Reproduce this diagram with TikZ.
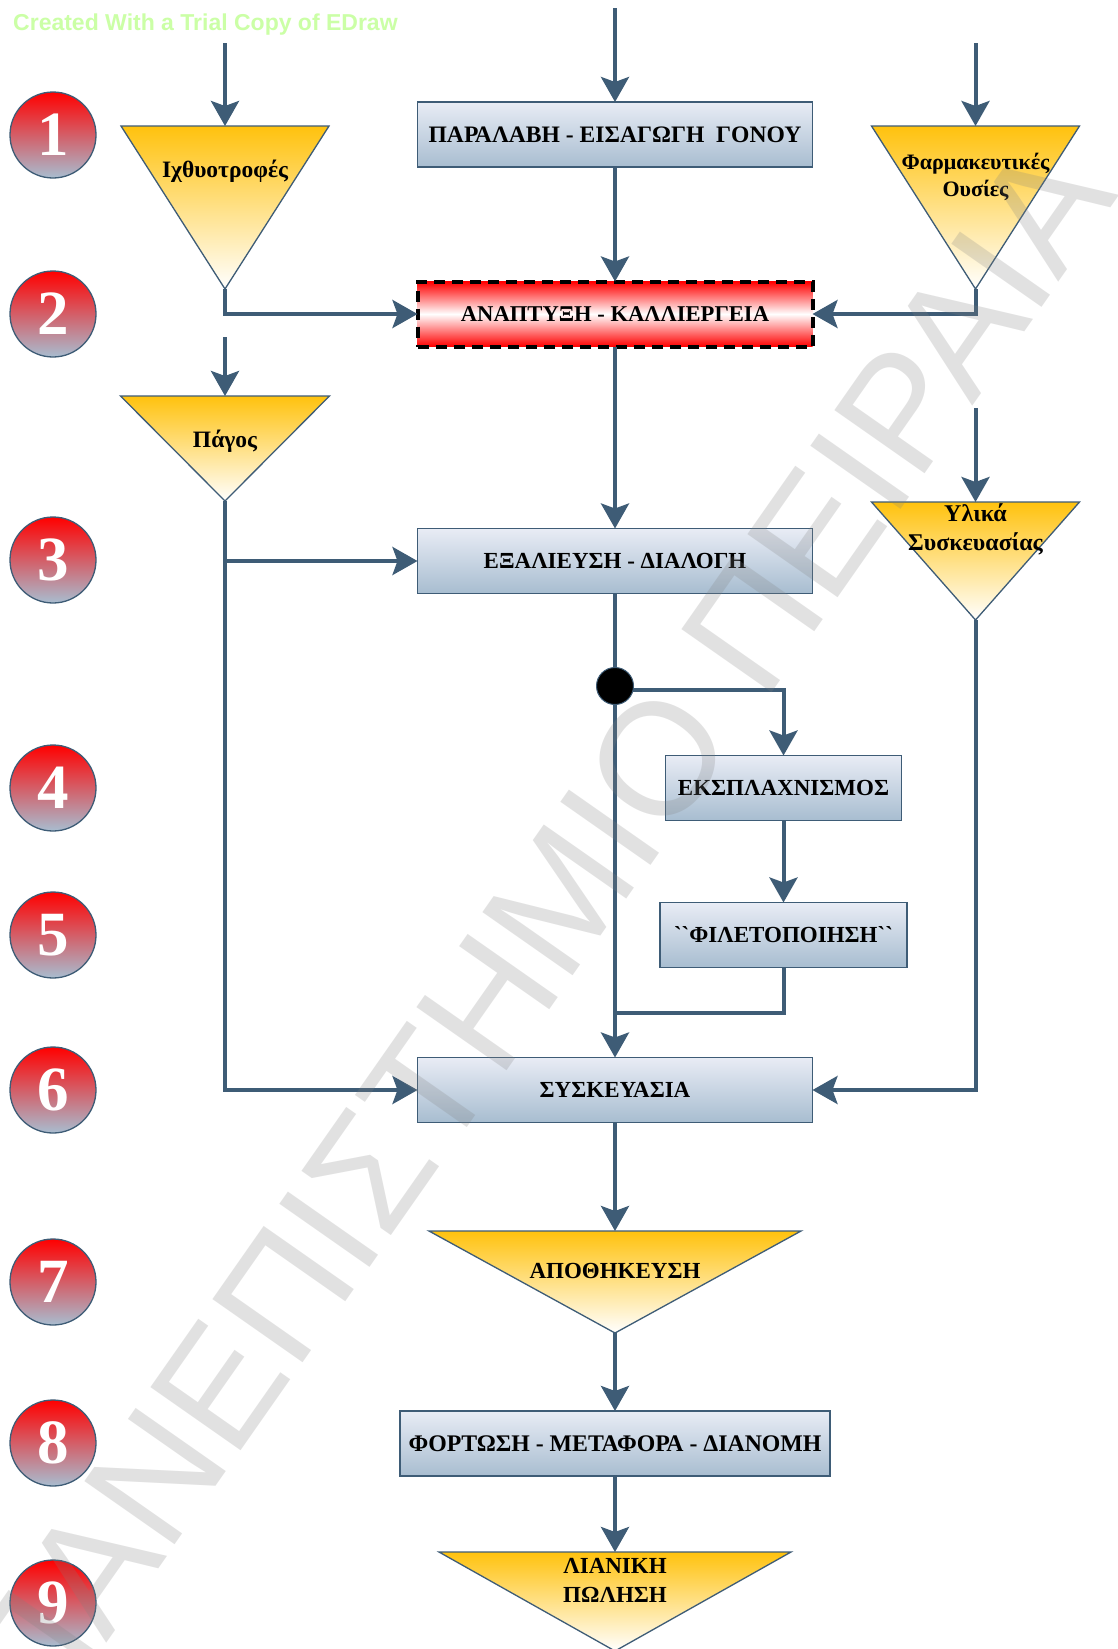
\documentclass[tikz,border=0pt]{standalone}
\usepackage{fontspec}
\setmainfont{Liberation Serif}
\setsansfont{Liberation Sans}
\newfontfamily\rawserif{Liberation Serif}
\usetikzlibrary{arrows.meta}

\definecolor{flowblue}{HTML}{3E5C76}
\definecolor{boxtop}{HTML}{E8ECF5}
\definecolor{boxbottom}{HTML}{A8BDD0}
\definecolor{trigold}{HTML}{FFC20E}
\definecolor{trialgreen}{HTML}{CBFFA6}

\tikzset{
  flowline/.style={draw=flowblue, line width=4pt, line join=miter},
  flowarrow/.style={flowline, -{Stealth[length=25pt, width=28pt, inset=5pt]}},
  procbox/.style={draw=flowblue, line width=1.3pt, top color=boxtop, bottom color=boxbottom,
    inner sep=0pt, outer sep=0pt, minimum height=65pt, font=\fontsize{23}{28}\selectfont\bfseries},
  redbox/.style={procbox, draw=black, line width=4pt, dash pattern=on 11pt off 7pt,
    top color=red, bottom color=red, middle color=white, font=\fontsize{22.6}{28}\selectfont\bfseries},
  stepball/.style={circle, draw=flowblue, line width=1.3pt, top color=red, bottom color=boxbottom,
    minimum size=86pt, inner sep=0pt, text=white, font=\fontsize{63}{63}\selectfont\bfseries},
  trilabel/.style={align=center, inner sep=0pt, font=\fontsize{23.5}{28}\selectfont\bfseries},
  bigtrilabel/.style={trilabel, font=\fontsize{23}{29}\selectfont\bfseries},
}

% name, centre x, top y, half width, tip y
\newcommand{\shadetriangle}[5]{
  \shade [draw=flowblue, line width=1.3pt, top color=trigold, bottom color=white]
         (#2-#4,#3) -- (#2+#4,#3) -- (#2,#5) -- cycle;
  \coordinate (#1top) at (#2,#3);
  \coordinate (#1tip) at (#2,#5);
}

\begin{document}
\begin{tikzpicture}[x=1pt, y=-1pt]
  \path[use as bounding box, clip] (0,0) rectangle (1117,1649);
  \fill[white] (0,0) rectangle (1117,1649);

  \node[anchor=west, text=trialgreen, inner sep=0pt, font=\fontsize{23}{23}\selectfont\sffamily\bfseries]
       (trialnote) at (13,25) {Created With a Trial Copy of EDraw};

  % side numbers
  \node[stepball] (stepone) at (53,135) {1};
  \node[stepball] (steptwo) at (53,314) {2};
  \node[stepball] (stepthree) at (53,560) {3};
  \node[stepball] (stepfour) at (53,788) {4};
  \node[stepball] (stepfive) at (53,935) {5};
  \node[stepball] (stepsix) at (53,1090) {6};
  \node[stepball] (stepseven) at (53,1282) {7};
  \node[stepball] (stepeight) at (53,1443) {8};
  \node[stepball] (stepnine) at (53,1603) {9};

  % triangles
  \shadetriangle{fish}{225}{126}{104}{289}
  \shadetriangle{pharma}{975.5}{126}{104}{289}
  \shadetriangle{ice}{225}{396}{104.5}{501}
  \shadetriangle{pack}{975.5}{502}{104}{620}
  \shadetriangle{store}{615}{1231}{186}{1333}
  \shadetriangle{retail}{615}{1552}{176}{1651}

  \node[trilabel] (fishlabel) at (225,171) {Ιχθυοτροφές};
  \node[trilabel, font=\fontsize{22}{27}\selectfont\bfseries] (pharmalabel) at (975.5,177) {Φαρμακευτικές\\Ουσίες};
  \node[trilabel] (icelabel) at (225,441) {Πάγος};
  \node[trilabel, font=\fontsize{24}{29}\selectfont\bfseries] (packlabel) at (975.5,529) {Υλικά\\Συσκευασίας};
  \node[bigtrilabel] (storelabel) at (615,1271) {ΑΠΟΘΗΚΕΥΣΗ};
  \node[bigtrilabel] (retaillabel) at (615,1580) {ΛΙΑΝΙΚΗ\\ΠΩΛΗΣΗ};

  % boxes
  \node[procbox, minimum width=395pt, font=\fontsize{23.6}{28}\selectfont\bfseries] (receive) at (615,134.5) {ΠΑΡΑΛΑΒΗ - ΕΙΣΑΓΩΓΗ\ \ ΓΟΝΟΥ};
  \node[redbox, minimum width=395pt] (grow) at (615,314) {ΑΝΑΠΤΥΞΗ - ΚΑΛΛΙΕΡΓΕΙΑ};
  \node[procbox, minimum width=395pt] (gut) at (615,561) {ΕΞΑΛΙΕΥΣΗ - ΔΙΑΛΟΓΗ};
  \node[procbox, minimum width=236pt] (wash) at (783.5,788) {ΕΚΣΠΛΑΧΝΙΣΜΟΣ};
  \node[procbox, minimum width=247pt] (fillet) at (783.5,935) {{\rawserif\bfseries``}ΦΙΛΕΤΟΠΟΙΗΣΗ{\rawserif\bfseries``}};
  \node[procbox, minimum width=395pt] (packing) at (615,1090) {ΣΥΣΚΕΥΑΣΙΑ};
  \node[procbox, minimum width=430pt, font=\fontsize{23.8}{28}\selectfont\bfseries] (deliver) at (615,1443.5) {ΦΟΡΤΩΣΗ - ΜΕΤΑΦΟΡΑ - ΔΙΑΝΟΜΗ};

  % free ends and joins
  \coordinate (fishin) at (225,43);
  \coordinate (receivein) at (615,8);
  \coordinate (pharmain) at (975.5,43);
  \coordinate (icein) at (225,337);
  \coordinate (packin) at (975.5,408);
  \coordinate (icejoin) at (225,561);
  \coordinate (branch) at (615,690);
  \coordinate (merge) at (615,1013);

  \draw[flowarrow] (fishin) -- (fishtop);
  \draw[flowarrow] (receivein) -- (receive.north);
  \draw[flowarrow] (pharmain) -- (pharmatop);
  \draw[flowarrow] (icein) -- (icetop);
  \draw[flowarrow] (packin) -- (packtop);

  \draw[flowarrow] (receive.south) -- (grow.north);
  \draw[flowarrow] (fishtip) |- (grow.west);
  \draw[flowarrow] (pharmatip) |- (grow.east);
  \draw[flowarrow] (grow.south) -- (gut.north);
  \draw[flowarrow] (icejoin) -- (gut.west);
  \draw[flowarrow] (icetip) |- (packing.west);
  \draw[flowarrow] (packtip) |- (packing.east);
  \draw[flowarrow] (gut.south) -- (packing.north);
  \draw[flowarrow] (branch) -| (wash.north);
  \draw[flowarrow] (wash.south) -- (fillet.north);
  \draw[flowline] (fillet.south) |- (merge);
  \draw[flowarrow] (packing.south) -- (storetop);
  \draw[flowarrow] (storetip) -- (deliver.north);
  \draw[flowarrow] (deliver.south) -- (retailtop);

  \node[circle, fill=black, draw=flowblue, line width=1pt, minimum size=37pt, inner sep=0pt]
       (splitdot) at (615,686) {};

  % overprint across the sheet
  \node[rotate=55, anchor=base west, text=black!50, text opacity=0.23, inner sep=0pt,
        font=\fontsize{160}{160}\selectfont\sffamily]
       (overprint) at (40,1738) {ΠΑΝΕΠΙΣΤΗΜΙΟ ΠΕΙΡΑΙΑ};
\end{tikzpicture}
\end{document}
